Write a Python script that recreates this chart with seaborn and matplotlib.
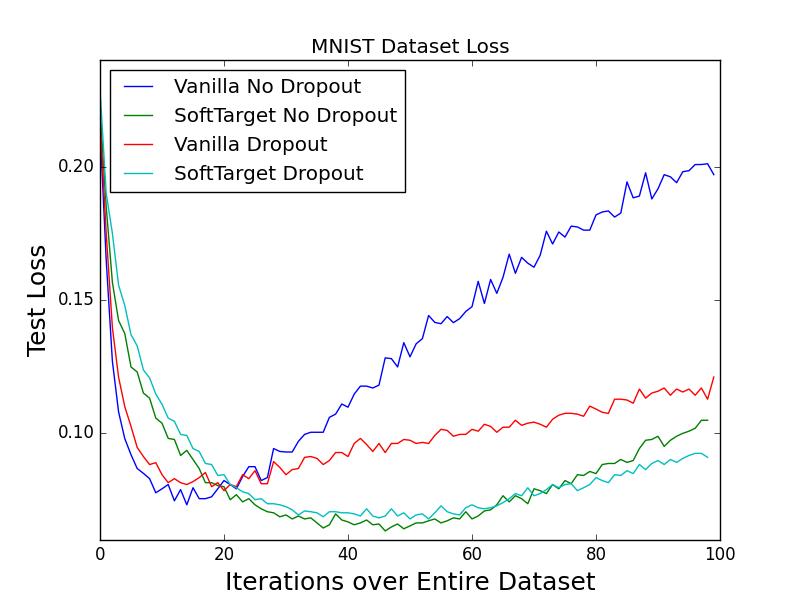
import matplotlib
matplotlib.use("Agg")
import matplotlib.pyplot as plt
from matplotlib.ticker import MultipleLocator, FormatStrFormatter
import seaborn as sns
import pandas as pd

labels = ["Vanilla No Dropout", "SoftTarget No Dropout", "Vanilla Dropout", "SoftTarget Dropout"]
colors = ["b", "g", "r", "c"]

vanilla_no_dropout = [
    0.215, 0.165, 0.127, 0.108, 0.098, 0.092, 0.0868, 0.085, 0.083, 0.0777,
    0.0792, 0.0808, 0.0747, 0.0789, 0.0732, 0.0796, 0.0755, 0.0755, 0.0762, 0.0792,
    0.0823, 0.0808, 0.0792, 0.0838, 0.0875, 0.0875, 0.0823, 0.0834, 0.0943, 0.0932,
    0.093, 0.093, 0.097, 0.0996, 0.1004, 0.1004, 0.1004, 0.106, 0.1072, 0.111,
    0.1098, 0.1147, 0.1177, 0.1177, 0.117, 0.1181, 0.1283, 0.128, 0.1249, 0.134,
    0.1287, 0.1336, 0.1355, 0.1442, 0.1416, 0.1411, 0.1438, 0.1415, 0.143, 0.1457,
    0.1475, 0.157, 0.1487, 0.1577, 0.1525, 0.1585, 0.1672, 0.16, 0.166, 0.1638,
    0.1623, 0.1668, 0.1758, 0.171, 0.1755, 0.1736, 0.1777, 0.1774, 0.1762, 0.1762,
    0.1819, 0.183, 0.1834, 0.1811, 0.1826, 0.1943, 0.1883, 0.189, 0.1977, 0.1879,
    0.1917, 0.197, 0.1962, 0.194, 0.1981, 0.1985, 0.2008, 0.2008, 0.2011, 0.197,
]

softtarget_no_dropout = [
    0.222, 0.185, 0.1566, 0.1423, 0.1374, 0.1249, 0.123, 0.1151, 0.1132, 0.1057,
    0.1038, 0.0981, 0.0977, 0.0917, 0.0936, 0.0902, 0.0868, 0.0815, 0.0815, 0.0804,
    0.08, 0.0751, 0.077, 0.0743, 0.0755, 0.0732, 0.0717, 0.0706, 0.0702, 0.0687,
    0.0694, 0.0679, 0.069, 0.0679, 0.0683, 0.0664, 0.0645, 0.0657, 0.0698, 0.0675,
    0.0668, 0.0657, 0.0664, 0.0675, 0.0657, 0.066, 0.0634, 0.0649, 0.066, 0.0642,
    0.0653, 0.0664, 0.0664, 0.0672, 0.0679, 0.0664, 0.0672, 0.0683, 0.0679, 0.0706,
    0.0679, 0.069, 0.0709, 0.0713, 0.0732, 0.0766, 0.0743, 0.0766, 0.0755, 0.0736,
    0.0792, 0.0785, 0.0774, 0.0808, 0.0792, 0.0823, 0.0811, 0.0845, 0.0842, 0.0857,
    0.0849, 0.0883, 0.0887, 0.0887, 0.0902, 0.0891, 0.0898, 0.0943, 0.0974, 0.0977,
    0.0989, 0.0951, 0.0974, 0.0989, 0.1, 0.1008, 0.1019, 0.1049, 0.1049,
]

vanilla_dropout = [
    0.218, 0.175, 0.1396, 0.121, 0.110, 0.1026, 0.0947, 0.0913, 0.0883, 0.089,
    0.0845, 0.0815, 0.083, 0.0815, 0.0808, 0.0819, 0.0834, 0.0853, 0.08, 0.0815,
    0.0785, 0.0808, 0.08, 0.0845, 0.083, 0.086, 0.0811, 0.0811, 0.0894, 0.0872,
    0.0845, 0.0864, 0.0868, 0.091, 0.0913, 0.0906, 0.0883, 0.0898, 0.0928, 0.0928,
    0.0913, 0.0962, 0.0981, 0.0958, 0.0932, 0.0962, 0.0928, 0.0962, 0.0962, 0.0977,
    0.0974, 0.0962, 0.0966, 0.0962, 0.0992, 0.1015, 0.1011, 0.0989, 0.0996, 0.0996,
    0.1015, 0.1008, 0.1034, 0.1026, 0.1004, 0.1023, 0.1023, 0.1049, 0.103, 0.1038,
    0.1042, 0.1034, 0.1023, 0.1053, 0.1068, 0.1075, 0.1075, 0.1072, 0.1064, 0.1102,
    0.1091, 0.1079, 0.1075, 0.1128, 0.1128, 0.1125, 0.1113, 0.1166, 0.1132, 0.1151,
    0.1158, 0.117, 0.1143, 0.1166, 0.1155, 0.1166, 0.1143, 0.117, 0.1128, 0.1211,
]

softtarget_dropout = [
    0.229, 0.19, 0.175, 0.1555, 0.1479, 0.137, 0.1328, 0.1238, 0.1208, 0.1147,
    0.1109, 0.1057, 0.1045, 0.0996, 0.0992, 0.0943, 0.0932, 0.0887, 0.0883, 0.0842,
    0.0845, 0.0808, 0.0796, 0.0781, 0.0774, 0.0751, 0.0755, 0.0736, 0.0736, 0.0732,
    0.0725, 0.0713, 0.0694, 0.0709, 0.0706, 0.0702, 0.0687, 0.0706, 0.0706, 0.0702,
    0.0702, 0.0698, 0.069, 0.0717, 0.069, 0.0683, 0.069, 0.0717, 0.069, 0.0702,
    0.0679, 0.0694, 0.0698, 0.0679, 0.0702, 0.0728, 0.0706, 0.0698, 0.0694, 0.0721,
    0.0732, 0.0721, 0.0717, 0.0721, 0.0728, 0.074, 0.0755, 0.0774, 0.0766, 0.0796,
    0.0766, 0.0774, 0.0789, 0.0808, 0.0796, 0.0808, 0.0811, 0.0785, 0.0796, 0.0808,
    0.0834, 0.0823, 0.0815, 0.0845, 0.0842, 0.086, 0.0849, 0.0883, 0.0864, 0.0887,
    0.0898, 0.0883, 0.0902, 0.0891, 0.0906, 0.0917, 0.0925, 0.0925, 0.091,
]

series = [vanilla_no_dropout, softtarget_no_dropout, vanilla_dropout, softtarget_dropout]

plt.style.use("classic")
fig, ax = plt.subplots(figsize=(8, 6), dpi=100)

for name, vals, col in zip(labels, series, colors):
    df = pd.DataFrame({"iteration": list(range(len(vals))), "loss": vals})
    sns.lineplot(data=df, x="iteration", y="loss", color=col, linewidth=1.0,
                 label=name, ax=ax, errorbar=None)

ax.set_xlim(0, 100)
ax.set_ylim(0.06, 0.24)
ax.xaxis.set_major_locator(MultipleLocator(20))
ax.yaxis.set_major_locator(MultipleLocator(0.05))
ax.yaxis.set_major_formatter(FormatStrFormatter("%.2f"))
ax.set_title("MNIST Dataset Loss")
ax.set_xlabel("Iterations over Entire Dataset", fontsize=18)
ax.set_ylabel("Test Loss", fontsize=18)
ax.legend(loc="upper left")

fig.savefig("out.png", dpi=100, facecolor="white")
